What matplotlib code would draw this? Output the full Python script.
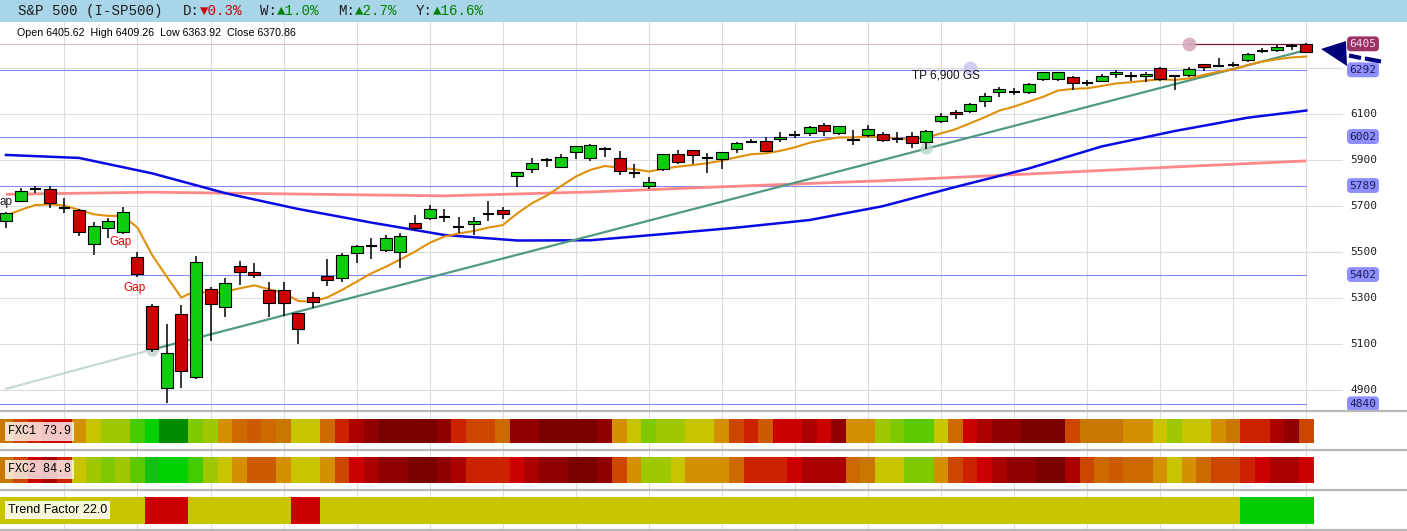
import matplotlib
matplotlib.use('Agg')
import matplotlib.pyplot as plt
import matplotlib.transforms as mtrans
from matplotlib.patches import Rectangle, Polygon
from matplotlib.lines import Line2D
import numpy as np

W, H = 1407, 531
fig = plt.figure(figsize=(W / 100, H / 100), dpi=100)

# ---------------- data ----------------
opens = [5636, 5723, 5774, 5772, 5693, 5683, 5533, 5603, 5586, 5477,
         5265, 4910, 5229, 4958, 5338, 5260, 5441, 5412, 5335, 5335,
         5233, 5303, 5396, 5386, 5494, 5528, 5509, 5502, 5625, 5649,
         5654, 5607, 5620, 5664, 5683, 5832, 5860, 5900, 5871, 5933,
         5907, 5948, 5910, 5845, 5787, 5860, 5926, 5944, 5910, 5903,
         5947, 5980, 5984, 5993, 6009, 6016, 6051, 6016, 5991, 6007,
         6012, 5990, 6006, 5977, 6071, 6110, 6115, 6158, 6197, 6197,
         6194, 6251, 6251, 6259, 6236, 6245, 6272, 6267, 6265, 6298,
         6265, 6270, 6316, 6309, 6313, 6335, 6374, 6378, 6397, 6405.62]
highs = [5672, 5777, 5787, 5787, 5733, 5686, 5632, 5649, 5697, 5501,
         5272, 5187, 5270, 5483, 5350, 5386, 5462, 5451, 5368, 5368,
         5233, 5328, 5468, 5494, 5530, 5560, 5574, 5584, 5661, 5704,
         5686, 5651, 5654, 5722, 5694, 5847, 5907, 5907, 5925, 5961,
         5970, 5955, 5939, 5881, 5828, 5926, 5944, 5944, 5929, 5936,
         5980, 5990, 6002, 6020, 6026, 6048, 6060, 6046, 6030, 6052,
         6020, 6020, 6023, 6031, 6103, 6117, 6146, 6190, 6219, 6212,
         6233, 6284, 6284, 6265, 6248, 6272, 6291, 6281, 6281, 6303,
         6270, 6306, 6316, 6342, 6328, 6364, 6386, 6400, 6404, 6409.26]
lows = [5603, 5719, 5758, 5693, 5671, 5571, 5487, 5559, 5578, 5390,
        5067, 4842, 4910, 4947, 5115, 5219, 5357, 5386, 5219, 5223,
        5099, 5255, 5354, 5371, 5454, 5468, 5502, 5432, 5596, 5639,
        5632, 5584, 5574, 5636, 5644, 5784, 5845, 5871, 5867, 5904,
        5897, 5912, 5834, 5823, 5773, 5854, 5881, 5881, 5845, 5861,
        5929, 5973, 5933, 5980, 5994, 6006, 6006, 6009, 5964, 5999,
        5977, 5975, 5954, 5948, 6060, 6078, 6106, 6132, 6175, 6183,
        6187, 6245, 6245, 6204, 6223, 6238, 6255, 6245, 6241, 6245,
        6204, 6262, 6288, 6308, 6303, 6325, 6364, 6371, 6378, 6363.92]
closes = [5668, 5767, 5774, 5714, 5693, 5586, 5613, 5635, 5672, 5403,
          5078, 5060, 4984, 5455, 5272, 5364, 5412, 5400, 5277, 5277,
          5164, 5284, 5378, 5487, 5526, 5528, 5560, 5570, 5606, 5686,
          5654, 5607, 5634, 5664, 5664, 5847, 5886, 5900, 5915, 5961,
          5965, 5948, 5851, 5845, 5803, 5926, 5890, 5920, 5910, 5936,
          5973, 5980, 5941, 5998, 6009, 6042, 6028, 6046, 5985, 6033,
          5985, 5990, 5973, 6028, 6093, 6100, 6142, 6178, 6209, 6197,
          6230, 6281, 6281, 6233, 6236, 6265, 6284, 6267, 6272, 6252,
          6265, 6296, 6306, 6309, 6313, 6359, 6374, 6390, 6397, 6370.86]

orange_ma = [5658, 5683, 5704, 5707, 5702, 5683, 5664, 5657, 5657, 5606,
             5487, 5393, 5302, 5332, 5318, 5328, 5342, 5355, 5338, 5323,
             5287, 5284, 5303, 5335, 5371, 5407, 5436, 5468, 5502, 5540,
             5567, 5581, 5591, 5606, 5617, 5668, 5712, 5745, 5787, 5828,
             5857, 5874, 5866, 5860, 5850, 5862, 5871, 5878, 5886, 5897,
             5912, 5925, 5929, 5940, 5955, 5975, 5988, 5998, 5998, 6002,
             6000, 5993, 5990, 5997, 6016, 6034, 6060, 6086, 6115, 6132,
             6154, 6175, 6202, 6209, 6212, 6222, 6233, 6238, 6245, 6251,
             6248, 6255, 6270, 6284, 6294, 6313, 6328, 6338, 6346, 6350]

blue_idx = [0, 5, 10, 15, 20, 25, 30, 35, 40, 45, 50, 55, 60, 65, 70, 75, 80, 85, 89]
blue_ma = [5922, 5909, 5842, 5756, 5687, 5628, 5574, 5550, 5551, 5578,
           5606, 5639, 5699, 5783, 5863, 5959, 6026, 6084, 6115]

pink_idx = [0, 10, 20, 30, 40, 50, 60, 70, 80, 89]
pink_ma = [5751, 5760, 5752, 5744, 5761, 5786, 5810, 5839, 5870, 5896]

trend_light_idx = [0, 10]
trend_light_val = [4905, 5076]
trend_idx = [10, 89]
trend_val = [5076, 6378]

levels = [6405, 6292, 6002, 5789, 5402, 4840]
tick_vals = [6100, 5900, 5700, 5500, 5300, 5100, 4900]
grid_vals = [4900, 5100, 5300, 5500, 5700, 5900, 6100, 6300]

palette = {
    'dg': '#008a00', 'g': '#00d000', 'g1': '#12c012', 'g2': '#44cc00',
    'g3': '#5cc800', 'yg': '#80c800', 'yg2': '#a0c800', 'y': '#c8c400',
    'o1': '#d49000', 'o2': '#c87800', 'o3': '#cc6a00', 'o4': '#cc5a00',
    'o5': '#cc4600', 'r1': '#cc2200', 'r': '#cc0000', 'dr1': '#aa0000',
    'dr2': '#900000', 'dr3': '#7a0000', 'tg': '#00cc00'}

fxc1 = ('o2 o5 r1 r r o1 y yg2 yg2 g2 g dg dg yg yg2 o1 o3 o4 o3 o2 y y o3 '
        'r1 dr1 dr2 dr3 dr3 dr3 dr3 dr2 r1 o5 o5 o3 dr2 dr2 dr3 dr3 dr3 dr3 dr2 o1 y yg '
        'yg2 yg2 y y o1 o5 r1 o4 r r dr1 r dr2 o1 o1 yg2 yg g3 g3 y o3 r dr1 '
        'dr2 dr2 dr3 dr3 dr3 o5 o2 o2 o2 o1 o1 y yg2 y y o1 o2 r1 r1 dr1 dr2 o5').split()
fxc2 = ('o2 o5 r dr1 r1 y yg2 yg yg2 g3 g1 g g g2 yg2 y o1 o4 o4 o1 y y o1 '
        'o5 r dr1 dr2 dr2 dr3 dr3 dr2 dr1 r1 r1 r1 r dr1 dr2 dr2 dr3 dr3 dr2 o5 o1 yg2 '
        'yg2 y o1 o1 o1 o3 r1 r1 r1 r dr1 dr1 dr1 o3 o2 y y yg yg o1 o5 r1 r '
        'dr1 dr2 dr2 dr3 dr3 dr1 o5 o3 o4 o3 o3 o1 y o1 o3 o5 o5 r1 r dr1 dr1 r').split()
trend_cells = (['y'] * 10 + ['r'] * 3 + ['y'] * 7 + ['r'] * 2 + ['y'] * 63 + ['tg'] * 5)

# ---------------- geometry helpers ----------------
def fx(x):
    return x / W

def fy(y):
    return 1 - y / H

STEP = 14.61
X0 = 6.0
PANE_R = 1343
XL = ((0 - X0) / STEP, (PANE_R - X0) / STEP)
P_LO = 6100 - (410 - 114) / 0.23
P_HI = 6100 + (114 - 22) / 0.23

# header bar
fig.patches.append(Rectangle((0, fy(21.5)), 1, 21.5 / H, transform=fig.transFigure,
                             fc='#a9d5e8', ec='none', zorder=0))

# background axes for vertical grid
bg = fig.add_axes([0, 0, PANE_R / W, fy(22)])
bg.set_xlim(XL)
bg.set_ylim(0, 1)
bg.set_axis_off()
for gx in range(4, 90, 5):
    bg.axvline(gx, color='#dcdcdc', lw=0.8, zorder=0)

# price axes
ax = fig.add_axes([0, fy(410), PANE_R / W, (410 - 22) / H])
ax.set_facecolor('none')
ax.set_xlim(XL)
ax.set_ylim(P_LO, P_HI)
ax.set_axis_off()

for gv in grid_vals:
    ax.axhline(gv, color='#dcdcdc', lw=0.8, zorder=1)

last = len(opens) - 1
for lv in levels[1:]:
    ax.plot([XL[0], last], [lv, lv], color='#8888ff', lw=0.8, zorder=2)
ax.plot([XL[0], 81], [levels[0], levels[0]], color='#d8bcc6', lw=0.8, zorder=2)
ax.plot([81, last], [levels[0], levels[0]], color='#7a1838', lw=0.9, zorder=2)

# moving averages and trend line
idx = np.arange(len(opens))
ax.plot(pink_idx, pink_ma, color='#ff8888', lw=2.0, zorder=3, solid_capstyle='butt')
ax.plot(blue_idx, blue_ma, color='#0a0ae6', lw=1.8, zorder=3)
ax.plot(trend_light_idx, trend_light_val, color='#c6dad2', lw=1.6, zorder=3)
ax.plot(trend_idx, trend_val, color='#4f9a80', lw=1.6, zorder=3)
ax.plot(idx, orange_ma, color='#e0900a', lw=1.5, zorder=3)

# marker circles
ax.plot([10], [5076], 'o', ms=9, color='#c6dad2', alpha=0.9, zorder=3.5, mec='none')
ax.plot([63], [5951], 'o', ms=9, color='#b8d8c8', alpha=0.8, zorder=3.5, mec='none')
ax.plot([66], [6300], 'o', ms=10, color='#c4c4f0', alpha=0.8, zorder=3.5, mec='none')
ax.plot([81], [6405], 'o', ms=10, color='#d6a8bc', alpha=0.9, zorder=3.5, mec='none')

# candles
o = np.array(opens, float); c = np.array(closes, float)
h = np.array(highs, float); l = np.array(lows, float)
up = c > o; dn = c < o; dj = c == o
ax.vlines(idx, l, h, color='black', lw=1.1, zorder=4)
ax.bar(idx[up], (c - o)[up], bottom=o[up], width=0.82, color='#10cc10',
       edgecolor='black', lw=0.8, zorder=5)
ax.bar(idx[dn], (o - c)[dn], bottom=c[dn], width=0.82, color='#cc0000',
       edgecolor='black', lw=0.8, zorder=5)
ax.hlines(o[dj], idx[dj] - 0.38, idx[dj] + 0.38, color='black', lw=1.5, zorder=5)

# right side labels
bt = mtrans.blended_transform_factory(fig.transFigure, ax.transData)
for tv in tick_vals:
    ax.text(fx(1350), tv, str(tv), transform=bt, ha='left', va='center',
            family='DejaVu Sans Mono', size=8, color='#202020', clip_on=False)
for lv in levels:
    if lv == levels[0]:
        fc, tc = '#993366', '#f4dde6'
    else:
        fc, tc = '#8f8fff', '#1c1c50'
    ax.text(fx(1363), lv, str(lv), transform=bt, ha='center', va='center',
            family='DejaVu Sans Mono', size=8, color=tc, clip_on=False,
            bbox=dict(boxstyle='round,pad=0.22,rounding_size=0.35', fc=fc, ec='none'))

# arrow
navy = '#00007a'
fig.patches.append(Polygon([(fx(1321), fy(49)), (fx(1346), fy(41)), (fx(1347), fy(66))],
                           closed=True, transform=fig.transFigure, fc=navy, ec='none'))
fig.lines.append(Line2D([fx(1349), fx(1361)], [fy(55.5), fy(58)], lw=3.0, color=navy,
                        transform=fig.transFigure, solid_capstyle='butt'))
fig.lines.append(Line2D([fx(1365), fx(1381)], [fy(58.5), fy(61.5)], lw=3.0, color=navy,
                        transform=fig.transFigure, solid_capstyle='butt'))

# header texts
mono = ['Liberation Mono', 'DejaVu Sans Mono']
hdr = [(18, 'S&P 500 (I-SP500)', '#1e1e1e'),
       (183, 'D:', '#1e1e1e'), (200, '▼0.3%', '#cc0000'),
       (260, 'W:', '#1e1e1e'), (277, '▲1.0%', '#008000'),
       (338, 'M:', '#1e1e1e'), (355, '▲2.7%', '#008000'),
       (416, 'Y:', '#1e1e1e'), (433, '▲16.6%', '#008000')]
for xx, tt, cc in hdr:
    fig.text(fx(xx), fy(11), tt, family=mono, size=10.2, color=cc, ha='left', va='center')

fig.text(fx(17), fy(33), 'Open 6405.62  High 6409.26  Low 6363.92  Close 6370.86',
         family='Liberation Sans', size=7.7, color='black', ha='left', va='center')

# annotations
fig.text(fx(912), fy(75), 'TP 6,900 GS', family='Liberation Sans', size=8.5,
         color='#111111', ha='left', va='center')
fig.text(fx(120), fy(242), 'Gap', family='Liberation Sans', size=8.5,
         color='#e00000', ha='center', va='center')
fig.text(fx(134), fy(288), 'Gap', family='Liberation Sans', size=8.5,
         color='#e00000', ha='center', va='center')
fig.text(fx(0), fy(202), 'ap', family='Liberation Sans', size=8.5,
         color='#1a1a2a', ha='left', va='center')

# indicator strips
def strip(y0, y1, cells):
    sa = fig.add_axes([0, fy(y1), PANE_R / W, (y1 - y0) / H])
    sa.set_xlim(XL)
    sa.set_ylim(0, 1)
    sa.set_axis_off()
    sa.bar(np.arange(len(cells)), 1, width=1.03, bottom=0,
           color=[palette[k] for k in cells], edgecolor='none', lw=0)
    return sa

strip(419, 443, fxc1)
strip(457, 483, fxc2)
strip(496.5, 524, trend_cells)

for yy in [411, 449.5, 489.5, 529.5]:
    fig.lines.append(Line2D([0, 1], [fy(yy), fy(yy)], lw=1.6, color='#b8b8b8',
                            transform=fig.transFigure))

lab_box = dict(boxstyle='square,pad=0.28', fc=(1, 1, 1, 0.78), ec='none')
fig.text(fx(8), fy(431.5), 'FXC1 73.9', family=mono, size=8.5, color='black',
         ha='left', va='center', bbox=lab_box)
fig.text(fx(8), fy(469.5), 'FXC2 84.8', family=mono, size=8.5, color='black',
         ha='left', va='center', bbox=lab_box)
fig.text(fx(8), fy(510), 'Trend Factor 22.0', family='Liberation Sans', size=9,
         color='black', ha='left', va='center',
         bbox=dict(boxstyle='square,pad=0.25', fc=(1, 1, 1, 0.85), ec='none'))

fig.savefig('out.png', dpi=100)
